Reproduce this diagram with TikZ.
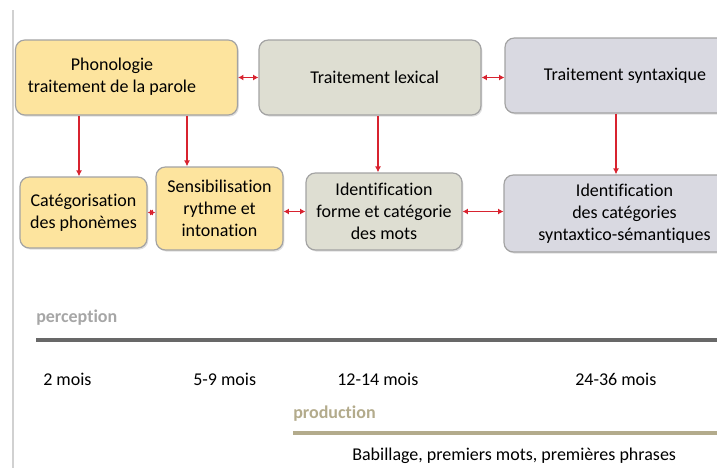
\documentclass[tikz,border=0pt]{standalone}
\usepackage{fontspec}
\setmainfont[Ligatures=NoCommon]{Carlito}
\usetikzlibrary{arrows.meta,calc,shadows}
\definecolor{phonfill}{HTML}{FDE49E}
\definecolor{lexfill}{HTML}{DEDED2}
\definecolor{synfill}{HTML}{D9D9E1}
\definecolor{boxline}{HTML}{A3A3A3}
\definecolor{linkred}{HTML}{D8232F}
\definecolor{percgray}{HTML}{A6A6A6}
\definecolor{percline}{HTML}{686868}
\definecolor{prodkhaki}{HTML}{B3AB8C}
\tikzset{
  box/.style={draw=boxline,line width=0.9pt,rounded corners=7pt,inner sep=0pt,align=center,
    font=\fontsize{13.5}{16.5}\selectfont,
    drop shadow={shadow xshift=1pt,shadow yshift=-1.2pt,opacity=0.25}},
  phonbox/.style={box,fill=phonfill},
  lexbox/.style={box,fill=lexfill},
  synbox/.style={box,fill=synfill},
  txt/.style={align=center,inner sep=0pt,font=\fontsize{13.5}{16.5}\selectfont},
  age/.style={anchor=west,inner sep=0pt,font=\fontsize{13.5}{16.5}\selectfont},
  link/.style={draw=linkred,line width=1.1pt,-{Latex[length=4.5pt,width=4.5pt]}},
  dlink/.style={draw=linkred,line width=1.1pt,{Latex[length=4pt,width=4.5pt]}-{Latex[length=4pt,width=4.5pt]}},
}
\begin{document}
\begin{tikzpicture}[x=0.75pt,y=-0.75pt]
\useasboundingbox (0,0) rectangle (717,468);
\draw[line width=1.2pt,black!18] (13,10) -- (13,468); % margin rule
% upper row
\node[phonbox,minimum width=166.5pt,minimum height=56.25pt] (phon) at (126.5,77.5) {};
\node[txt] (phontxt) at (112,77) {Phonologie\\traitement de la parole};
\node[lexbox,minimum width=166.5pt,minimum height=56.25pt] (lex) at (370,77.5) {\hspace*{7pt}Traitement lexical};
\node[synbox,minimum width=180pt,minimum height=56.25pt] (syn) at (625,75.5) {Traitement syntaxique};
% lower row
\node[phonbox,minimum width=95.25pt,minimum height=53.25pt] (cat) at (83.5,212.5) {Catégorisation\\des phonèmes};
\node[phonbox,minimum width=95.25pt,minimum height=62.25pt] (sens) at (219.5,208.5) {Sensibilisation\\rythme et\\intonation};
\node[lexbox,minimum width=117pt,minimum height=57.75pt] (ident) at (384,211.5) {Identification\\forme et catégorie\\des mots};
\node[synbox,minimum width=180.75pt,minimum height=57.75pt] (cats) at (624.5,213.5) {Identification\\des catégories\\syntaxtico-sémantiques};
% links
\draw[dlink] (phon.east) -- (lex.west);
\draw[dlink] (lex.east) -- (lex.east -| syn.west);
\draw[dlink] (cat.east) -- (cat.east -| sens.west);
\draw[dlink] (ident.west -| sens.east) -- (ident.west);
\draw[dlink] (ident.east) -- (ident.east -| cats.west);
\draw[link] (phon.south -| 79,0) -- (cat.north -| 79,0);
\draw[link] (phon.south -| 187,0) -- (sens.north -| 187,0);
\draw[link] (lex.south -| 378,0) -- (ident.north -| 378,0);
\draw[link] (syn.south -| 616,0) -- (cats.north -| 616,0);
% timeline
\node[age,text=percgray,font=\fontsize{13.5}{16.5}\selectfont\bfseries] (perc) at (36,318) {perception};
\draw[percline,line width=2.4pt] (36,340) -- (717,340);
\node[age] (m2) at (43,379) {2 mois};
\node[age] (m5) at (193,379) {5-9 mois};
\node[age] (m12) at (337,379) {12-14 mois};
\node[age] (m24) at (575,379) {24-36 mois};
\node[age,text=prodkhaki,font=\fontsize{13.5}{16.5}\selectfont\bfseries] (prod) at (293,414) {production};
\draw[prodkhaki,line width=2.4pt] (293,433) -- (717,433);
\node[age] (babil) at (352,456) {Babillage, premiers mots, premières phrases};
\end{tikzpicture}
\end{document}
